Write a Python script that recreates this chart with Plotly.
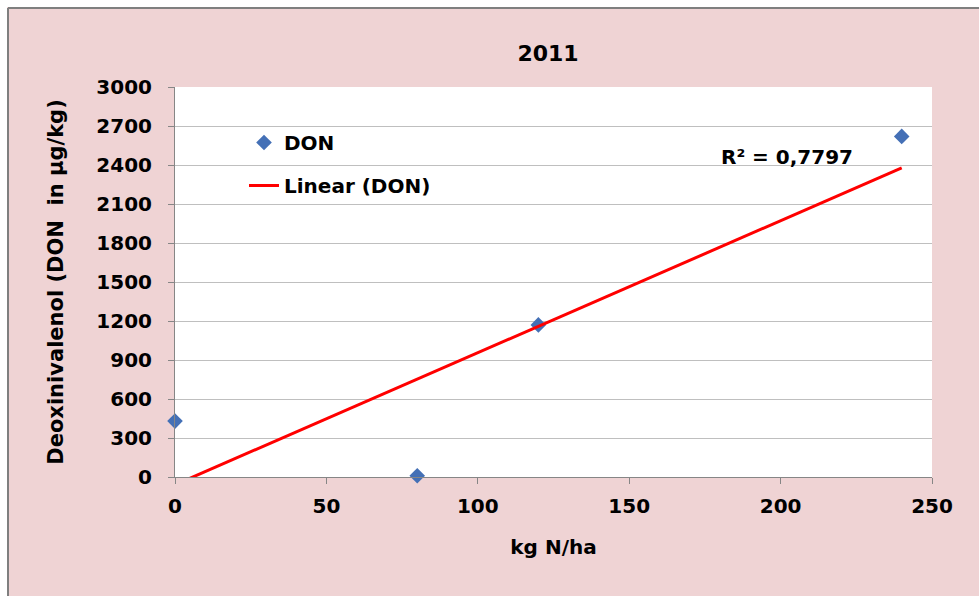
import numpy as np
import plotly.graph_objects as go

# Nitrogen rate (kg N/ha) and DON content (µg/kg), season 2011
n_rate = [0, 80, 120, 240]
don = [430, 10, 1170, 2620]

x_ticks = [0, 50, 100, 150, 200, 250]
y_ticks = [0, 300, 600, 900, 1200, 1500, 1800, 2100, 2400, 2700, 3000]

# least-squares linear trend over the sampled range
slope, intercept = np.polyfit(n_rate, don, 1)
trend_x = [min(n_rate), max(n_rate)]
trend_y = [slope * v + intercept for v in trend_x]

FONT = "DejaVu Sans"
PINK = "#EFD3D4"
GRID = "#BFBFBF"
AXIS = "#868686"

fig = go.Figure()
fig.add_trace(go.Scatter(
    x=n_rate, y=don, mode="markers", name="<b>DON</b>",
    marker=dict(symbol="diamond", size=12, color="#4470B6"),
    cliponaxis=False, legendgroup="a",
))
fig.add_trace(go.Scatter(
    x=trend_x, y=trend_y, mode="lines", name="<b>Linear (DON)</b>",
    line=dict(color="#FF0000", width=3), legendgroup="b",
))

fig.add_annotation(
    x=202, y=2460, xref="x", yref="y", text="<b>R² = 0,7797</b>",
    showarrow=False, xanchor="center", yanchor="middle",
    font=dict(family=FONT, size=20, color="black"),
)

# outer frame: white strip along top/left edges with a grey border line
def px_x(p):
    return (p - 175) / 757

def px_y(p):
    return (477 - p) / 390

shapes = [
    dict(type="rect", xref="paper", yref="paper", x0=px_x(-20), x1=px_x(1000),
         y0=px_y(7), y1=px_y(-20), fillcolor="white", line=dict(width=0), layer="below"),
    dict(type="rect", xref="paper", yref="paper", x0=px_x(-20), x1=px_x(7),
         y0=px_y(620), y1=px_y(-20), fillcolor="white", line=dict(width=0), layer="below"),
    dict(type="line", xref="paper", yref="paper", x0=px_x(8), x1=px_x(1000),
         y0=px_y(8), y1=px_y(8), line=dict(color="#7F7F7F", width=2), layer="below"),
    dict(type="line", xref="paper", yref="paper", x0=px_x(8), x1=px_x(8),
         y0=px_y(8), y1=px_y(620), line=dict(color="#7F7F7F", width=2), layer="below"),
]

fig.update_layout(
    width=979, height=596,
    margin=dict(l=175, r=47, t=87, b=119),
    paper_bgcolor=PINK, plot_bgcolor="white",
    font=dict(family=FONT, size=20, color="black"),
    title=dict(text="<b>2011</b>", x=(548) / 979, xanchor="center",
               y=1 - 53 / 596, yanchor="middle",
               font=dict(family=FONT, size=22, color="black")),
    showlegend=True,
    legend=dict(x=px_x(244), y=px_y(123), xanchor="left", yanchor="top",
                bgcolor="rgba(0,0,0,0)", traceorder="grouped", tracegroupgap=14,
                font=dict(family=FONT, size=20, color="black")),
    shapes=shapes,
)

fig.update_xaxes(
    range=[0, 250], tickvals=x_ticks, ticktext=[f"<b>{v}</b>" for v in x_ticks],
    showgrid=False, zeroline=False, showline=True, linecolor=AXIS, linewidth=1,
    ticks="outside", ticklen=6, tickcolor=AXIS, ticklabelstandoff=5,
    title=dict(text="<b>kg N/ha</b>", standoff=22, font=dict(family=FONT, size=20)),
)
fig.update_yaxes(
    range=[0, 3000], tickvals=y_ticks, ticktext=[f"<b>{v}</b>" for v in y_ticks],
    showgrid=True, gridcolor=GRID, gridwidth=1, zeroline=False,
    showline=True, linecolor=AXIS, linewidth=1,
    ticks="outside", ticklen=6, tickcolor=AXIS, ticklabelstandoff=12,
    title=dict(text="<b>Deoxinivalenol (DON\u00a0 in µg/kg)</b>", standoff=26,
               font=dict(family=FONT, size=21)),
)

fig.write_html("out.html")
